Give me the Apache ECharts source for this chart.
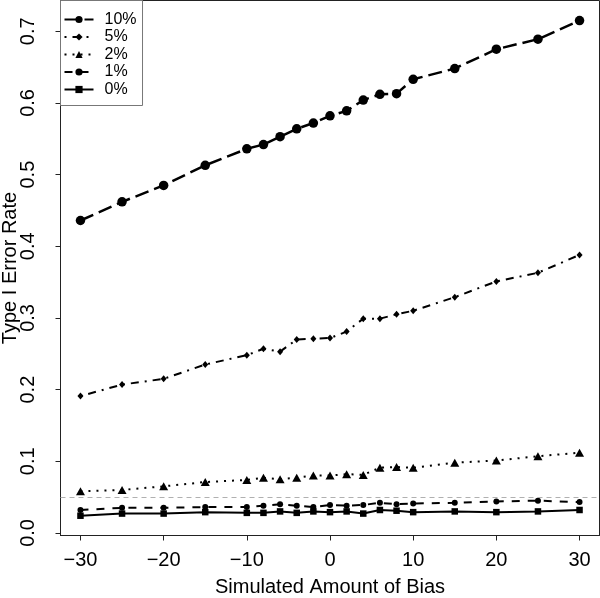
<!DOCTYPE html>
<html>
<head>
<meta charset="utf-8">
<script src="https://cdn.jsdelivr.net/npm/echarts@6/dist/echarts.min.js"></script>
<style>html,body{margin:0;padding:0;background:#fff}#c{width:600px;height:598px}</style>
</head>
<body>
<div id="c"></div>
<script>
var bias = [-30, -25, -20, -15, -10, -8, -6, -4, -2, 0, 2, 4, 6, 8, 10, 15, 20, 25, 30];
var rate10 = [0.436, 0.462, 0.485, 0.513, 0.536, 0.542, 0.553, 0.564, 0.572, 0.582, 0.589, 0.604, 0.612, 0.613, 0.633, 0.648, 0.675, 0.689, 0.715];
var rate5 = [0.191, 0.207, 0.215, 0.235, 0.248, 0.257, 0.253, 0.270, 0.271, 0.272, 0.281, 0.299, 0.299, 0.305, 0.310, 0.329, 0.351, 0.363, 0.388];
var rate2 = [0.058, 0.060, 0.065, 0.071, 0.074, 0.077, 0.075, 0.077, 0.080, 0.080, 0.082, 0.081, 0.091, 0.092, 0.091, 0.098, 0.101, 0.107, 0.112];
var rate1 = [0.032, 0.035, 0.035, 0.036, 0.036, 0.038, 0.040, 0.038, 0.036, 0.039, 0.038, 0.039, 0.042, 0.040, 0.041, 0.042, 0.044, 0.045, 0.043];
var rate0 = [0.024, 0.027, 0.027, 0.029, 0.028, 0.028, 0.030, 0.028, 0.030, 0.029, 0.030, 0.027, 0.032, 0.031, 0.029, 0.030, 0.029, 0.030, 0.032];
var seriesNames = ['10%', '5%', '2%', '1%', '0%'];
var xTicks = [-30, -20, -10, 0, 10, 20, 30];
var yTicks = [0, 0.1, 0.2, 0.3, 0.4, 0.5, 0.6, 0.7];
var nominal = 0.05;

function pairs(ys) { return bias.map(function (x, i) { return [x, ys[i]]; }); }
var font = 'Liberation Sans, Arial, Helvetica, sans-serif';

var styles = [
  { data: rate10, symbol: 'circle', size: 9.5, dash: [14, 6], width: 2.5 },
  { data: rate5, symbol: 'diamond', size: [6, 7], dash: [2, 6, 8, 6], width: 2 },
  { data: rate2, symbol: 'triangle', size: [9, 8], dash: [2, 6], width: 2 },
  { data: rate1, symbol: 'circle', size: 6, dash: [8, 8], width: 2 },
  { data: rate0, symbol: 'rect', size: 6.5, dash: 'solid', width: 2 }
];

var series = styles.map(function (s, i) {
  return {
    name: seriesNames[i],
    type: 'line',
    data: pairs(s.data),
    symbol: s.symbol,
    symbolSize: s.size,
    showAllSymbol: true,
    animation: false,
    itemStyle: { color: '#000' },
    lineStyle: { color: '#000', width: s.width, type: s.dash }
  };
});
series[4].markLine = {
  silent: true,
  symbol: 'none',
  label: { show: false },
  lineStyle: { color: '#b0b0b0', type: [5, 4], width: 1 },
  data: [{ yAxis: nominal }]
};

var chart = echarts.init(document.getElementById('c'), null, { renderer: 'canvas' });
chart.setOption({
  animation: false,
  backgroundColor: '#fff',
  grid: {
    left: 60.5, right: 0.5, top: 0.5, bottom: 62.5,
    containLabel: false, outerBoundsMode: 'none',
    show: true, borderColor: '#222', borderWidth: 1, backgroundColor: 'transparent'
  },
  legend: {
    orient: 'vertical',
    left: 60.5,
    top: 0.5,
    data: seriesNames,
    itemWidth: 29,
    itemHeight: 9,
    itemGap: 1.5,
    padding: [11, 6, 8, 3],
    borderColor: '#777',
    borderWidth: 1,
    backgroundColor: '#fff',
    textStyle: { fontFamily: font, fontSize: 16, color: '#000', padding: [0, 0, 0, 6] }
  },
  xAxis: {
    type: 'value',
    position: 'bottom',
    min: -32.4,
    max: 32.4,
    name: 'Simulated Amount of Bias',
    nameLocation: 'middle',
    nameGap: 42,
    nameMoveOverlap: false,
    nameTextStyle: { fontFamily: font, fontSize: 20, color: '#000' },
    axisLine: { show: true, onZero: false, lineStyle: { color: '#222', width: 1 } },
    splitLine: { show: false },
    axisTick: { show: true, inside: false, length: 5, lineStyle: { color: '#222', width: 1 }, customValues: xTicks },
    axisLabel: {
      customValues: xTicks,
      fontFamily: font, fontSize: 20, color: '#000', margin: 15,
      formatter: function (v) { return String(v).replace('-', '\u2212'); }
    }
  },
  yAxis: {
    type: 'value',
    position: 'left',
    min: -0.0036,
    max: 0.743,
    name: 'Type I Error Rate',
    nameLocation: 'middle',
    nameRotate: 90,
    nameGap: 40,
    nameMoveOverlap: false,
    nameTextStyle: { fontFamily: font, fontSize: 20, color: '#000' },
    axisLine: { show: true, onZero: false, lineStyle: { color: '#222', width: 1 } },
    splitLine: { show: false },
    axisTick: { show: true, inside: false, length: 5, lineStyle: { color: '#222', width: 1 }, customValues: yTicks },
    axisLabel: {
      customValues: yTicks,
      rotate: 90,
      fontFamily: font, fontSize: 20, color: '#000', margin: 22,
      formatter: function (v) { return v.toFixed(1); }
    }
  },
  series: series
});
</script>
</body>
</html>
